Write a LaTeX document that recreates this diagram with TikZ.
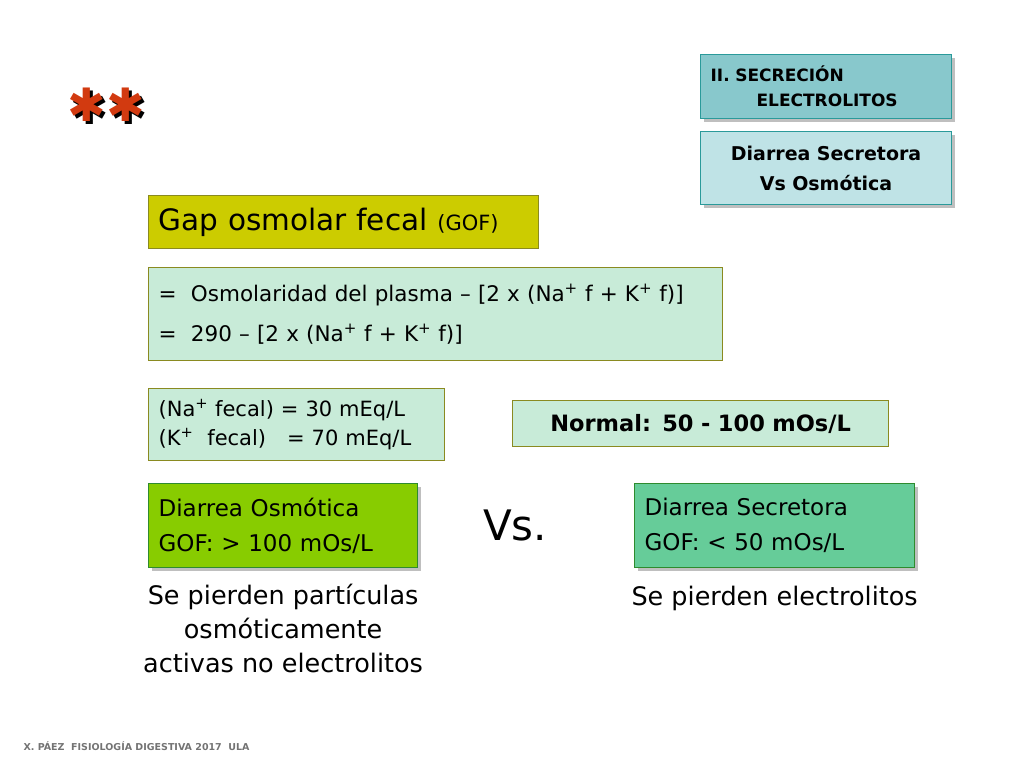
\documentclass[tikz,border=0pt]{standalone}
\usepackage{fontspec}
\setmainfont{DejaVu Sans}
\usetikzlibrary{positioning, shadows}
\definecolor{tealfill}{HTML}{88C8CC}
\definecolor{tealline}{HTML}{2A9A9A}
\definecolor{lighttealfill}{HTML}{BFE3E6}
\definecolor{gapfill}{HTML}{CCCC00}
\definecolor{oliveline}{HTML}{8A8A20}
\definecolor{mintfill}{HTML}{C8EBD8}
\definecolor{osmfill}{HTML}{88CC00}
\definecolor{secfill}{HTML}{66CC99}
\definecolor{greenline}{HTML}{2E8B2E}
\definecolor{starred}{HTML}{D23A10}

\begin{document}
\begin{tikzpicture}[x=1pt, y=-1pt,
    box/.style={draw, line width=1.2pt, rectangle, inner xsep=10pt, inner ysep=0pt, align=left, anchor=north west},
    shadowbox/.style={box, drop shadow={shadow xshift=3pt, shadow yshift=-3pt, fill=black!50}},
    plain/.style={align=center, font=\fontsize{25.5}{34}\selectfont}]

    \useasboundingbox (0,0) rectangle (1024,768);

    % Title marks
    \node[font=\fontsize{46}{46}\selectfont] (stars) at (106,106)
          {\rlap{\kern3pt\raisebox{-3pt}{\textcolor{black}{✱✱}}}\textcolor{starred}{✱✱}};

    % Header boxes
    \node[shadowbox, fill=tealfill, draw=tealline, text width=231pt, minimum height=64pt,
          font=\bfseries\fontsize{17}{25}\selectfont] (section) at (700,54)
          {II. SECRECIÓN\\\hspace{46pt}ELECTROLITOS};
    \node[shadowbox, fill=lighttealfill, draw=tealline, text width=231pt, minimum height=73pt,
          align=center, font=\bfseries\fontsize{19}{30}\selectfont] (topic) at (700,131)
          {Diarrea Secretora\\Vs Osmótica};

    % Formula boxes
    \node[box, fill=gapfill, draw=oliveline, text width=370pt, minimum height=53pt,
          font=\fontsize{29.5}{34}\selectfont] (gap) at (148,195)
          {Gap osmolar fecal {\fontsize{21}{26}\selectfont(GOF)}};
    \node[box, fill=mintfill, draw=oliveline, text width=554pt, minimum height=93pt,
          font=\fontsize{21.5}{40}\selectfont] (formula) at (148,267)
          {= \ Osmolaridad del plasma – [2 x (Na\textsuperscript{+} f + K\textsuperscript{+} f)]\\= \ 290 – [2 x (Na\textsuperscript{+} f + K\textsuperscript{+} f)]};
    \node[box, fill=mintfill, draw=oliveline, text width=276pt, minimum height=72pt,
          font=\fontsize{21}{29}\selectfont] (fecal) at (148,388)
          {(Na\textsuperscript{+} fecal) = 30 mEq/L\\(K\textsuperscript{+} \ fecal) \ \ = 70 mEq/L};
    \node[box, fill=mintfill, draw=oliveline, text width=356pt, minimum height=46pt,
          align=center, font=\bfseries\fontsize{22.5}{26}\selectfont] (normal) at (512,400)
          {Normal: 50 - 100 mOs/L};

    % Comparison
    \node[shadowbox, fill=osmfill, draw=greenline, text width=249pt, minimum height=84pt,
          font=\fontsize{23}{35}\selectfont] (osmotic) at (148,483)
          {Diarrea Osmótica\\GOF: > 100 mOs/L};
    \node[font=\fontsize{42}{46}\selectfont] (vs) at (515,525) {Vs.};
    \node[shadowbox, fill=secfill, draw=greenline, text width=260pt, minimum height=84pt,
          font=\fontsize{23}{35}\selectfont] (secretory) at (634,483)
          {Diarrea Secretora\\GOF: < 50 mOs/L};

    \node[plain, below=12pt of osmotic] (osmnote)
          {Se pierden partículas\\osmóticamente\\activas no electrolitos};
    \node[plain, below=14pt of secretory] (secnote) {Se pierden electrolitos};

    % Footer
    \node[anchor=west, text=black!55, font=\bfseries\fontsize{9.5}{12}\selectfont] (footer) at (20,746)
          {X. PÁEZ \ FISIOLOGÍA DIGESTIVA 2017 \ ULA};
\end{tikzpicture}
\end{document}
